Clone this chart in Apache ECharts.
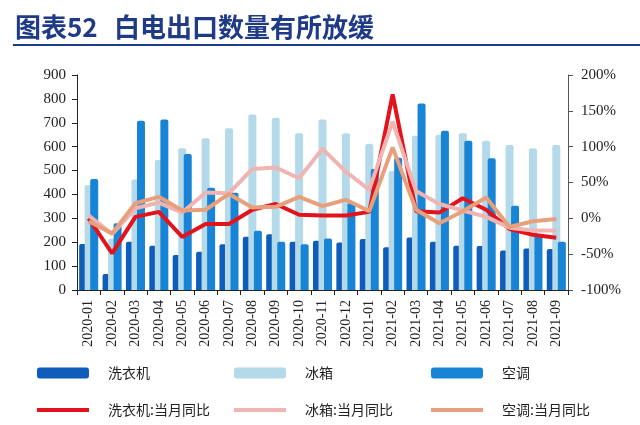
<!DOCTYPE html>
<html>
<head>
<meta charset="utf-8">
<script src="https://cdn.jsdelivr.net/npm/echarts@6/dist/echarts.min.js"></script>
<style>
html,body{margin:0;padding:0;background:#fff;}
#chart{width:640px;height:425px;}
</style>
</head>
<body>
<div id="chart"></div>
<script>
var categories = ['2020-01','2020-02','2020-03','2020-04','2020-05','2020-06','2020-07','2020-08','2020-09','2020-10','2020-11','2020-12','2021-01','2021-02','2021-03','2021-04','2021-05','2021-06','2021-07','2021-08','2021-09'];
var washer = [193, 67, 202, 185, 147, 160, 191, 223, 233, 202, 206, 199, 213, 179, 220, 202, 185, 184, 165, 174, 172];
var fridge = [440, 215, 463, 544, 593, 635, 677, 735, 721, 656, 714, 656, 611, 498, 646, 649, 656, 625, 607, 593, 607];
var ac = [465, 279, 709, 714, 569, 428, 407, 248, 202, 191, 216, 363, 506, 554, 781, 667, 625, 551, 353, 227, 202];
var washerYoY = [0, -49, 2, 9, -26, -8, -8, 12, 20, 5, 4, 4, 9, 173, 10, 8, 28, 12, -15, -23, -27];
var fridgeYoY = [4, -22, 14, 22, 8, 36, 35, 69, 71, 56, 97, 65, 40, 135, 38, 20, 11, 2, -13, -17, -17];
var acYoY = [-4, -21, 21, 30, 11, 12, 34, 15, 16, 30, 17, 26, 10, 99, 12, -7, 10, 29, -12, -4, -1];
var leftTicks = {min: 0, max: 900, interval: 100};
var rightTicks = {min: -100, max: 200, interval: 50};
var names = ['洗衣机', '冰箱', '空调', '洗衣机:当月同比', '冰箱:当月同比', '空调:当月同比'];

var colors = ['#0F5DBA', '#B4DAEA', '#1884D5', '#E3121B', '#F0B4B2', '#E8A07C'];
var numFont = 'Liberation Serif';
var cjkFont = 'Noto Sans CJK SC';

function legendAt(name, left, top, isLine) {
  return {
    data: [name], left: left, top: top, padding: 0,
    orient: 'horizontal',
    icon: isLine ? 'rect' : 'roundRect',
    itemWidth: 52, itemHeight: isLine ? 4 : 11, itemGap: 23,
    textStyle: {fontFamily: cjkFont, fontSize: 14, color: '#222', padding: [0, 0, 0, 14]},
    selectedMode: false
  };
}

var chart = echarts.init(document.getElementById('chart'), null, {renderer: 'canvas'});
var barBase = {type: 'bar', barWidth: 8, barGap: '-31%', itemStyle: {borderRadius: [2, 2, 0, 0]}};
var lineBase = {type: 'line', yAxisIndex: 1, symbol: 'none', smooth: false, lineStyle: {width: 4}, z: 5};

chart.setOption({
  animation: false,
  color: colors,
  grid: {left: 77, right: 72, top: 75, bottom: 135, containLabel: false},
  graphic: [
    {type: 'text', left: 15, top: 14, style: {text: '图表52', font: 'bold 26px "Noto Sans CJK SC"', fill: '#1F3A86'}},
    {type: 'text', left: 114, top: 14, style: {text: '白电出口数量有所放缓', font: 'bold 26px "Noto Sans CJK SC"', fill: '#1F3A86'}},
    {type: 'line', shape: {x1: 13, y1: 45, x2: 640, y2: 45}, style: {stroke: '#1F3A86', lineWidth: 2}}
  ],
  legend: [
    legendAt(names[0], 37, 366, false),
    legendAt(names[1], 234, 366, false),
    legendAt(names[2], 431, 366, false),
    legendAt(names[3], 37, 403, true),
    legendAt(names[4], 234, 403, true),
    legendAt(names[5], 431, 403, true)
  ],
  xAxis: {
    type: 'category', data: categories, boundaryGap: true,
    axisLine: {lineStyle: {color: '#222', width: 1}},
    axisTick: {show: true, length: 5, lineStyle: {color: '#222'}},
    axisLabel: {rotate: 90, fontFamily: numFont, fontSize: 14, color: '#222', margin: 10, interval: 0}
  },
  yAxis: [
    {
      type: 'value', min: leftTicks.min, max: leftTicks.max, interval: leftTicks.interval,
      splitLine: {show: false},
      axisLine: {show: true, lineStyle: {color: '#222'}},
      axisTick: {show: true, length: 5, lineStyle: {color: '#222'}},
      axisLabel: {fontFamily: numFont, fontSize: 15, color: '#222', margin: 11}
    },
    {
      type: 'value', min: rightTicks.min, max: rightTicks.max, interval: rightTicks.interval,
      splitLine: {show: false},
      axisLine: {show: true, lineStyle: {color: '#555'}},
      axisTick: {show: true, length: 5, lineStyle: {color: '#555'}},
      axisLabel: {fontFamily: numFont, fontSize: 15, color: '#222', margin: 13, formatter: '{value}%'}
    }
  ],
  series: [
    Object.assign({}, barBase, {name: names[0], data: washer}),
    Object.assign({}, barBase, {name: names[1], data: fridge}),
    Object.assign({}, barBase, {name: names[2], data: ac}),
    Object.assign({}, lineBase, {name: names[3], data: washerYoY}),
    Object.assign({}, lineBase, {name: names[4], data: fridgeYoY}),
    Object.assign({}, lineBase, {name: names[5], data: acYoY})
  ]
});
</script>
</body>
</html>
